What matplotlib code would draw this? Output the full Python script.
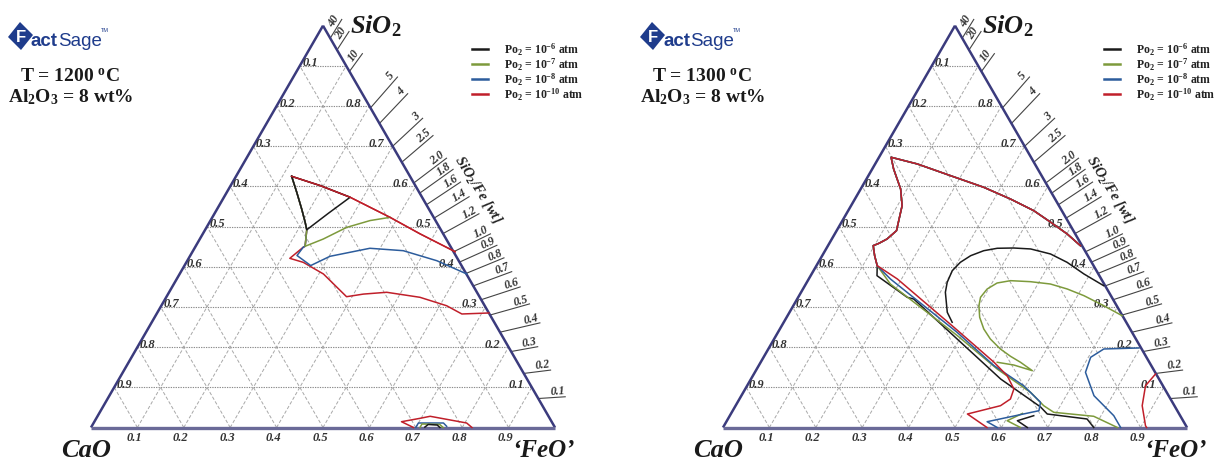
import numpy as np
import matplotlib
matplotlib.use("Agg")
import matplotlib.pyplot as plt
from matplotlib.transforms import offset_copy
from matplotlib.patches import Polygon

plt.rcParams['font.family'] = ['Liberation Serif', 'DejaVu Serif']
plt.rcParams['mathtext.fontset'] = 'custom'
plt.rcParams['mathtext.rm'] = 'Liberation Serif:bold'
plt.rcParams['mathtext.bf'] = 'Liberation Serif:bold'
plt.rcParams['mathtext.it'] = 'Liberation Serif:bold:italic'

# ---------------- data ----------------
GRID_LEVELS = [0.1, 0.2, 0.3, 0.4, 0.5, 0.6, 0.7, 0.8, 0.9]
GRID_LABELS = ['0.1', '0.2', '0.3', '0.4', '0.5', '0.6', '0.7', '0.8', '0.9']
RIGHT_EDGE_LEVELS = [0.1, 0.2, 0.3, 0.4, 0.5, 0.6, 0.7, 0.8]
RIGHT_EDGE_LABELS = ['0.1', '0.2', '0.3', '0.4', '0.5', '0.6', '0.7', '0.8']

RATIO_VALUES = [40, 20, 10, 5, 4, 3, 2.5, 2.0, 1.8, 1.6, 1.4, 1.2, 1.0,
                0.9, 0.8, 0.7, 0.6, 0.5, 0.4, 0.3, 0.2, 0.1]
RATIO_LABELS = ['40', '20', '10', '5', '4', '3', '2.5', '2.0', '1.8', '1.6',
                '1.4', '1.2', '1.0', '0.9', '0.8', '0.7', '0.6', '0.5', '0.4',
                '0.3', '0.2', '0.1']
FE_IN_FEO = 55.845 / 71.844

PO2_LABELS = [r'Po$_\mathbf{2}$ = 10$^{\mathbf{-6}}$ atm',
              r'Po$_\mathbf{2}$ = 10$^{\mathbf{-7}}$ atm',
              r'Po$_\mathbf{2}$ = 10$^{\mathbf{-8}}$ atm',
              r'Po$_\mathbf{2}$ = 10$^{\mathbf{-10}}$ atm']
SERIES_COLORS = ['#1a1a1a', '#7d9a3c', '#2c5c9c', '#c01f2a']
TEMPERATURES = ['1200', '1300']

# ---- 1200 C  (FeO, SiO2 mass fractions) ----
BLACK_1200_FEO = [0.120, 0.193, 0.272, 0.245, 0.219, 0.206, 0.182, 0.151, 0.120]
BLACK_1200_SIO2 = [0.625, 0.602, 0.573, 0.533, 0.492, 0.511, 0.544, 0.585, 0.625]
GREEN_1200_FEO = [0.383, 0.344, 0.302, 0.266, 0.236, 0.219]
GREEN_1200_SIO2 = [0.523, 0.515, 0.498, 0.469, 0.451, 0.492]
BLUE_1200_FEO = [0.619, 0.538, 0.453, 0.378, 0.302, 0.272, 0.230, 0.233, 0.236]
BLUE_1200_SIO2 = [0.382, 0.415, 0.440, 0.446, 0.426, 0.403, 0.428, 0.4485, 0.451]
RED_1200_FEO = [0.715, 0.658, 0.615, 0.547, 0.469, 0.421, 0.388, 0.310, 0.252,
                0.218, 0.233, 0.236]
RED_1200_SIO2 = [0.285, 0.2825, 0.303, 0.324, 0.3365, 0.332, 0.3255, 0.382, 0.411,
                 0.421, 0.4485, 0.451]
UPPER_1200_FEO = [0.120, 0.193, 0.272, 0.383, 0.468, 0.566]
UPPER_1200_SIO2 = [0.625, 0.602, 0.573, 0.523, 0.482, 0.4375]
RED_1200_LOW_FEO = [0.695, 0.662, 0.698, 0.717, 0.804, 0.821]
RED_1200_LOW_SIO2 = [0.0, 0.0144, 0.0229, 0.0279, 0.0112, 0.0]
BLUE_1200_LOW_FEO = [0.700, 0.700, 0.754, 0.765]
BLUE_1200_LOW_SIO2 = [0.0, 0.0112, 0.0112, 0.003]
GREEN_1200_LOW_FEO = [0.709, 0.709, 0.748, 0.759]
GREEN_1200_LOW_SIO2 = [0.0, 0.0087, 0.0075, 0.0]
BLACK_1200_LOW_FEO = [0.719, 0.723, 0.743, 0.752]
BLACK_1200_LOW_SIO2 = [0.001, 0.0075, 0.0062, 0.0]

# ---- 1300 C ----
UPPER_1300_FEO = [0.026, 0.091, 0.177, 0.263, 0.335, 0.400, 0.451, 0.501, 0.544]
UPPER_1300_SIO2 = [0.6725, 0.6558, 0.6267, 0.5978, 0.5687, 0.5396, 0.5107, 0.4816, 0.4525]
LEFT_1300_FEO = [0.026, 0.046, 0.066, 0.086, 0.110, 0.129, 0.119, 0.107, 0.0975, 0.113, 0.131]
LEFT_1300_SIO2 = [0.6725, 0.6434, 0.6185, 0.5936, 0.552, 0.4898, 0.4691, 0.4584, 0.4525, 0.4276, 0.4027]
BLACK_1300_BAND_FEO = [0.131, 0.143, 0.235, 0.251, 0.538, 0.659, 0.682, 0.774, 0.799]
BLACK_1300_BAND_SIO2 = [0.4027, 0.3778, 0.324, 0.3198, 0.1207, 0.051, 0.0336, 0.0212, 0.0]
GREEN_1300_BAND_FEO = [0.131, 0.182, 0.391, 0.518, 0.619, 0.664, 0.694, 0.785, 0.850]
GREEN_1300_BAND_SIO2 = [0.4027, 0.3572, 0.2285, 0.1456, 0.0876, 0.0543, 0.0378, 0.0279, 0.0]
BLUE_1300_BAND_FEO = [0.131, 0.176, 0.386, 0.507, 0.596, 0.653, 0.660, 0.562, 0.591]
BLUE_1300_BAND_SIO2 = [0.4027, 0.3696, 0.2369, 0.154, 0.104, 0.0627, 0.0418, 0.0144, 0.0]
RED_1300_BAND_FEO = [0.131, 0.191, 0.373, 0.503, 0.548, 0.579, 0.584, 0.571, 0.510, 0.569]
RED_1300_BAND_SIO2 = [0.4027, 0.3696, 0.2494, 0.1623, 0.1289, 0.0958, 0.0709, 0.0543, 0.0336, 0.0]
BLACK_1300_SMALL_FEO = [0.655, 0.626, 0.656]
BLACK_1300_SMALL_SIO2 = [0.0294, 0.0169, 0.0]
GREEN_1300_SMALL_FEO = [0.628, 0.604, 0.641]
GREEN_1300_SMALL_SIO2 = [0.035, 0.0169, 0.0]
BLACK_1300_C_FEO = [0.644, 0.587, 0.536, 0.490, 0.441, 0.403, 0.368, 0.342, 0.320,
                    0.306, 0.299, 0.3025, 0.311, 0.340, 0.363]
BLACK_1300_C_SIO2 = [0.3529, 0.382, 0.4111, 0.4318, 0.4443, 0.4467, 0.446, 0.44, 0.4276,
                     0.4111, 0.3902, 0.3614, 0.3365, 0.2867, 0.2618]
GREEN_1300_LOOP_FEO = [0.721, 0.669, 0.614, 0.5695, 0.527, 0.481, 0.437, 0.411, 0.397,
                       0.393, 0.400, 0.416, 0.4395, 0.466, 0.500, 0.531, 0.560, 0.596,
                       0.549, 0.510]
GREEN_1300_LOOP_SIO2 = [0.2783, 0.3031, 0.328, 0.3447, 0.3571, 0.3629, 0.3654, 0.3596, 0.3447,
                        0.324, 0.3031, 0.2743, 0.2451, 0.2203, 0.1954, 0.1772, 0.1623, 0.1414,
                        0.1555, 0.1623]
BLUE_1300_RIGHT_FEO = [0.797, 0.723, 0.705, 0.7125, 0.760, 0.8275, 0.857]
BLUE_1300_RIGHT_SIO2 = [0.1979, 0.1954, 0.1747, 0.1374, 0.0791, 0.0294, 0.0]
RED_1300_RIGHT_FEO = [0.8656, 0.8586, 0.8763, 0.9083, 0.913]
RED_1300_RIGHT_SIO2 = [0.1331, 0.104, 0.0543, 0.0045, 0.0]

# ---------------- helpers ----------------
SQ3 = np.sqrt(3.0) / 2.0


def tern(feo, sio2):
    feo = np.asarray(feo, float)
    sio2 = np.asarray(sio2, float)
    return feo + sio2 / 2.0, sio2 * SQ3


FIG_W, FIG_H = 1216, 460
UNIT = 464.0
BASE = 428.5
CORNER = 91.0

fig = plt.figure(figsize=(FIG_W / 100, FIG_H / 100), dpi=100)
fig.patch.set_facecolor('white')


def P(px, py):
    return (px - CORNER) / UNIT, (BASE - py) / UNIT


def make_ax(x0, w):
    ax = fig.add_axes([x0 / FIG_W, 0, w / FIG_W, 1])
    ax.set_xlim((0 - CORNER) / UNIT, (w - CORNER) / UNIT)
    ax.set_ylim((BASE - FIG_H) / UNIT, BASE / UNIT)
    ax.axis('off')
    return ax


LABEL_KW = dict(fontsize=9, fontweight='bold', fontstyle='italic', color='#333333')


def draw_frame(ax):
    for v in GRID_LEVELS:
        x, y = tern([0, 1 - v], [v, v])
        ax.plot(x, y, color='#8c8c8c', lw=0.8, ls=(0, (1.2, 1.0)), zorder=1)
        x, y = tern([v, v], [0, 1 - v])
        ax.plot(x, y, color='#a8a8a8', lw=0.7, ls=(0, (3.5, 2.0)), zorder=1)
        x, y = tern([1 - v, 0], [0, 1 - v])
        ax.plot(x, y, color='#a8a8a8', lw=0.7, ls=(0, (3.5, 2.0)), zorder=1)
    # edges
    x, y = tern([0, 0], [0, 1])
    ax.plot(x, y, color='#3b3b7d', lw=1.8, zorder=3, solid_capstyle='butt')
    x, y = tern([1, 0], [0, 1])
    ax.plot(x, y, color='#3b3b7d', lw=1.8, zorder=3, solid_capstyle='butt')
    x, y = tern([0, 1], [0, 0])
    ax.plot(x, y, color='#6a6a98', lw=2.4, zorder=3, solid_capstyle='butt')

    # left edge labels (CaO fraction)
    tl = offset_copy(ax.transData, fig=fig, x=2.5, y=0.5, units='dots')
    for v, lab in zip(GRID_LEVELS, GRID_LABELS):
        x, y = tern([0], [1 - v])
        ax.text(x[0], y[0], lab, transform=tl, ha='left', va='baseline', **LABEL_KW)
    # right edge labels (SiO2 fraction)
    tr = offset_copy(ax.transData, fig=fig, x=-8, y=0.5, units='dots')
    for v, lab in zip(RIGHT_EDGE_LEVELS, RIGHT_EDGE_LABELS):
        x, y = tern([1 - v], [v])
        ax.text(x[0], y[0], lab, transform=tr, ha='right', va='baseline', **LABEL_KW)
    # bottom labels (FeO fraction)
    tb = offset_copy(ax.transData, fig=fig, x=-3, y=-4, units='dots')
    for v, lab in zip(GRID_LEVELS, GRID_LABELS):
        x, y = tern([v], [0])
        ax.text(x[0], y[0], lab, transform=tb, ha='center', va='top', **LABEL_KW)

    # SiO2/Fe ratio scale
    for r, lab in zip(RATIO_VALUES, RATIO_LABELS):
        s = FE_IN_FEO * r / (1 + FE_IN_FEO * r)
        x0, y0 = tern([1 - s], [s])
        x0, y0 = x0[0], y0[0]
        ang = np.arctan2(y0, x0)
        if r >= 10:
            L = 22
        elif r >= 0.4:
            L = 41
        else:
            L = 27
        L = L / UNIT
        x1, y1 = x0 + L * np.cos(ang), y0 + L * np.sin(ang)
        ax.plot([x0, x1], [y0, y1], color='#444444', lw=0.8, zorder=2)
        to = offset_copy(ax.transData, fig=fig, x=0, y=0.5, units='dots')
        ax.text(x1, y1, lab, transform=to, rotation=np.degrees(ang),
                rotation_mode='anchor', ha='right', va='bottom',
                fontsize=8.5, fontweight='bold', fontstyle='italic', color='#333333')
    x, y = P(478, 190)
    ax.text(x, y, r'SiO$_{\mathit{2}}$/Fe [wt]', rotation=-58, ha='center', va='center',
            rotation_mode='anchor', fontsize=10.5, fontweight='bold', fontstyle='italic',
            color='#222222')

    # corner labels
    x, y = P(350, 33)
    ax.text(x, y, r'SiO$_{\mathit{2}}$', ha='left', va='baseline', fontsize=19,
            fontweight='bold', fontstyle='italic', color='#1a1a1a')
    x, y = P(61, 457)
    ax.text(x, y, 'CaO', ha='left', va='baseline', fontsize=19,
            fontweight='bold', fontstyle='italic', color='#1a1a1a')
    x, y = P(512, 457)
    ax.text(x, y, '\u2018FeO\u2019', ha='left', va='baseline', fontsize=18,
            fontweight='bold', fontstyle='italic', color='#1a1a1a')


def draw_header(ax, temp):
    # FactSage logo
    pts = [P(8, 38), P(20, 23), P(33, 36), P(21, 51)]
    ax.add_patch(Polygon(pts, closed=True, facecolor='#1f3c8c', edgecolor='none', zorder=5))
    x, y = P(21, 38)
    ax.text(x, y, 'F', ha='center', va='center', fontsize=12, fontweight='bold',
            color='white', family='Liberation Sans', zorder=6)
    x, y = P(31, 46)
    ax.text(x, y, 'act', ha='left', va='baseline', fontsize=13.5, fontweight='bold',
            color='#1f3c8c', family='Liberation Sans', zorder=6)
    x, y = P(58, 46)
    ax.text(x, y, 'Sage', ha='left', va='baseline', fontsize=13.5,
            color='#1f3c8c', family='Liberation Sans', zorder=6)
    x, y = P(101, 32)
    ax.text(x, y, 'TM', ha='left', va='baseline', fontsize=4,
            color='#1f3c8c', family='Liberation Sans', zorder=6)
    x, y = P(70, 82)
    ax.text(x, y, 'T = ' + temp + r' $^\mathbf{o}$C', ha='center', va='baseline',
            fontsize=14, fontweight='bold', color='#1a1a1a')
    x, y = P(71, 102)
    ax.text(x, y, r'Al$_\mathbf{2}$O$_\mathbf{3}$ = 8 wt%', ha='center', va='baseline',
            fontsize=14, fontweight='bold', color='#1a1a1a')
    # legend
    for i, (lab, col) in enumerate(zip(PO2_LABELS, SERIES_COLORS)):
        yy = 50 + 15 * i
        xa, ya = P(472, yy)
        xb, yb = P(488, yy)
        ax.plot([xa, xb], [ya, yb], color=col, lw=1.8)
        xt, yt = P(504, yy)
        ax.text(xt, yt, lab, ha='left', va='center', fontsize=8.5, fontweight='bold',
                color='#222222')


def line(ax, feo, sio2, color, z=4, lw=1.1):
    x, y = tern(feo, sio2)
    ax.plot(x, y, color=color, lw=lw, zorder=z, solid_joinstyle='round')


k, g, b, r = SERIES_COLORS

# ---------------- left panel: 1200 C ----------------
axL = make_ax(0, 608)
draw_frame(axL)
draw_header(axL, TEMPERATURES[0])
line(axL, RED_1200_FEO + BLACK_1200_FEO[4:], RED_1200_SIO2 + BLACK_1200_SIO2[4:], r, z=4)
line(axL, UPPER_1200_FEO, UPPER_1200_SIO2, r, z=4)
line(axL, BLUE_1200_FEO + BLACK_1200_FEO[4:], BLUE_1200_SIO2 + BLACK_1200_SIO2[4:], b, z=5)
line(axL, GREEN_1200_FEO + BLACK_1200_FEO[5:], GREEN_1200_SIO2 + BLACK_1200_SIO2[5:], g, z=6)
line(axL, BLACK_1200_FEO, BLACK_1200_SIO2, k, z=7)
line(axL, UPPER_1200_FEO, UPPER_1200_SIO2, r, z=8, lw=1.0)
line(axL, RED_1200_LOW_FEO, RED_1200_LOW_SIO2, r, z=4)
line(axL, BLUE_1200_LOW_FEO, BLUE_1200_LOW_SIO2, b, z=5)
line(axL, GREEN_1200_LOW_FEO, GREEN_1200_LOW_SIO2, g, z=6)
line(axL, BLACK_1200_LOW_FEO, BLACK_1200_LOW_SIO2, k, z=7)

# ---------------- right panel: 1300 C ----------------
axR = make_ax(632, 584)
draw_frame(axR)
draw_header(axR, TEMPERATURES[1])
bands = [(BLACK_1300_BAND_FEO, BLACK_1300_BAND_SIO2, k),
         (GREEN_1300_BAND_FEO, GREEN_1300_BAND_SIO2, g),
         (BLUE_1300_BAND_FEO, BLUE_1300_BAND_SIO2, b),
         (RED_1300_BAND_FEO, RED_1300_BAND_SIO2, r)]
for zi, (bf, bs, col) in enumerate(bands):
    feo = UPPER_1300_FEO[::-1] + LEFT_1300_FEO[1:] + bf[1:]
    sio2 = UPPER_1300_SIO2[::-1] + LEFT_1300_SIO2[1:] + bs[1:]
    line(axR, feo, sio2, col, z=4 + zi)
line(axR, BLACK_1300_SMALL_FEO, BLACK_1300_SMALL_SIO2, k, z=4)
line(axR, GREEN_1300_SMALL_FEO, GREEN_1300_SMALL_SIO2, g, z=5)
line(axR, BLACK_1300_C_FEO, BLACK_1300_C_SIO2, k, z=4)
line(axR, GREEN_1300_LOOP_FEO, GREEN_1300_LOOP_SIO2, g, z=5)
line(axR, BLUE_1300_RIGHT_FEO, BLUE_1300_RIGHT_SIO2, b, z=6)
line(axR, RED_1300_RIGHT_FEO, RED_1300_RIGHT_SIO2, r, z=7)

fig.savefig('out.png', dpi=100, facecolor='white')
